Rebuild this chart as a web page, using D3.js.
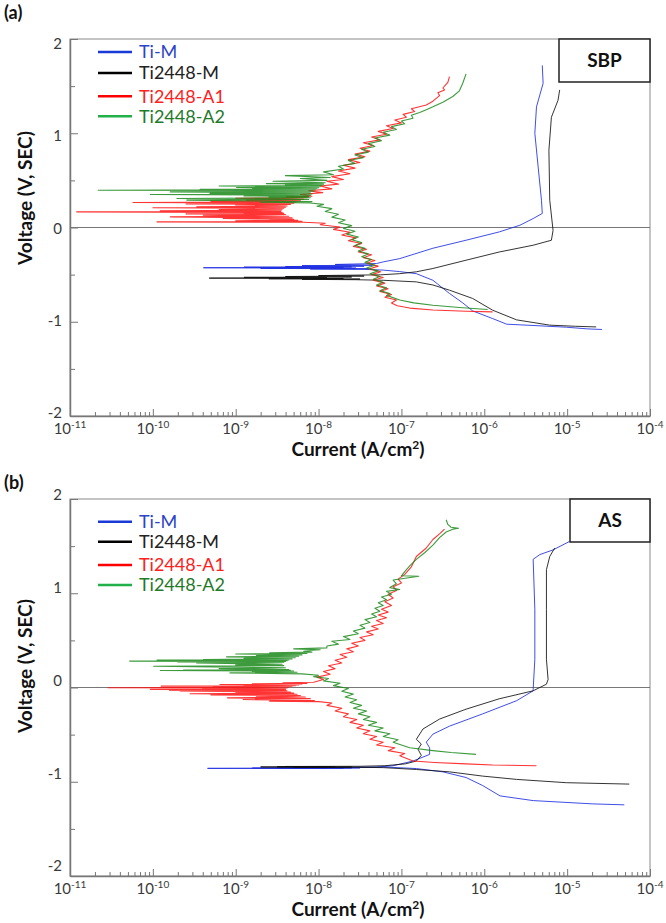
<!DOCTYPE html>
<html>
<head>
<meta charset="utf-8">
<script src="https://cdnjs.cloudflare.com/ajax/libs/d3/7.8.5/d3.min.js"></script>
<style>
  body { margin: 0; background: #fff; }
  text { font-family: Lato, "Open Sans", sans-serif; }
</style>
</head>
<body>
<script>
var width = 666,
  height = 923;

// series names, legend order
var names = ["Ti-M", "Ti2448-M", "Ti2448-A1", "Ti2448-A2"];
var decades = [1e-11, 1e-10, 1e-9, 1e-8, 1e-7, 1e-6, 1e-5, 1e-4];
var yTicks = [-2, -1, 0, 1, 2];
var yMinor = [-1.5, -0.5, 0.5, 1.5];

// each point: [log10 current (A/cm2), voltage (V)] in scan order

// ---- (a) SBP ----
var aTiM = [
  [-4.58,-1.082],[-4.75,-1.076],[-5.01,-1.058],[-5.40,-1.040],[-5.73,-1.026],[-5.90,-0.966],[-6.14,-0.885],
  [-6.26,-0.800],[-6.42,-0.700],[-6.62,-0.560],[-6.82,-0.490],[-7.02,-0.468],[-7.22,-0.452],[-7.45,-0.444],
  [-8.10,-0.440],[-7.40,-0.438],[-8.70,-0.434],[-7.55,-0.431],[-9.39,-0.427],[-7.70,-0.424],[-8.90,-0.421],
  [-7.60,-0.418],[-8.40,-0.414],[-7.45,-0.410],[-8.20,-0.405],[-7.35,-0.400],[-7.80,-0.392],[-7.30,-0.382],
  [-7.22,-0.365],[-7.02,-0.330],[-6.62,-0.220],[-6.22,-0.135],[-5.82,-0.047],[-5.57,0.024],[-5.41,0.095],
  [-5.30,0.149],[-5.31,0.290],[-5.35,0.643],[-5.39,1.000],[-5.37,1.280],[-5.29,1.530],[-5.30,1.720]
];
var aTi2448M = [
  [-4.65,-1.055],[-4.90,-1.048],[-5.21,-1.036],[-5.61,-0.980],[-5.90,-0.877],[-6.14,-0.753],[-6.42,-0.665],
  [-6.62,-0.610],[-6.82,-0.577],[-7.22,-0.560],[-7.55,-0.554],
  [-8.20,-0.550],[-7.50,-0.547],[-8.60,-0.544],[-7.70,-0.541],[-9.32,-0.537],[-7.90,-0.533],[-8.90,-0.529],
  [-7.60,-0.525],[-8.40,-0.520],[-7.45,-0.515],[-8.00,-0.510],[-7.25,-0.502],
  [-7.02,-0.490],[-6.82,-0.470],[-6.62,-0.435],[-6.22,-0.347],[-5.82,-0.260],[-5.41,-0.188],[-5.19,-0.135],
  [-5.17,-0.030],[-5.21,0.290],[-5.22,0.820],[-5.19,1.170],[-5.11,1.350],[-5.09,1.460]
];
var aA1 = [
  [-5.90,-0.895],[-6.22,-0.888],[-6.62,-0.875],[-6.90,-0.855],[-7.05,-0.830],[-7.12,-0.800],
  [-7.06,-0.770],[-7.20,-0.740],[-7.12,-0.710],[-7.26,-0.680],[-7.16,-0.650],[-7.30,-0.620],[-7.20,-0.590],
  [-7.34,-0.560],[-7.22,-0.530],[-7.36,-0.500],[-7.25,-0.470],[-7.39,-0.440],[-7.28,-0.410],[-7.42,-0.380],
  [-7.32,-0.350],[-7.46,-0.320],[-7.36,-0.290],[-7.52,-0.260],[-7.42,-0.230],[-7.58,-0.200],[-7.48,-0.170],
  [-7.64,-0.140],[-7.55,-0.110],[-7.72,-0.080],[-7.62,-0.050],[-7.82,-0.020],[-7.74,0.005],[-7.98,0.030],
  [-7.92,0.045],
  [-8.18,0.055],[-9.95,0.060],[-8.20,0.066],[-9.00,0.071],[-8.25,0.076],[-8.59,0.080],[-8.30,0.088],
  [-9.15,0.095],[-8.32,0.102],[-9.79,0.113],[-8.36,0.120],[-9.39,0.130],[-8.40,0.138],[-9.60,0.145],
  [-8.42,0.150],[-8.90,0.156],[-8.44,0.160],[-10.92,0.166],[-8.46,0.171],[-9.91,0.177],[-8.45,0.183],
  [-9.20,0.190],[-8.44,0.195],[-8.71,0.200],[-8.42,0.205],[-10.00,0.210],[-8.40,0.215],[-9.47,0.220],
  [-8.38,0.228],[-9.00,0.240],[-8.34,0.245],[-9.60,0.250],[-8.30,0.258],[-10.24,0.265],[-8.27,0.272],
  [-9.30,0.280],[-8.22,0.285],[-8.87,0.290],[-8.18,0.298],[-9.00,0.310],[-8.14,0.316],[-8.39,0.325],
  [-8.08,0.332],
  [-8.22,0.350],[-7.95,0.370],[-8.12,0.390],[-7.84,0.410],[-7.98,0.440],[-7.76,0.460],[-7.90,0.490],
  [-7.70,0.510],[-7.84,0.540],[-7.62,0.570],[-7.76,0.600],[-7.56,0.630],[-7.70,0.660],[-7.50,0.690],
  [-7.64,0.720],[-7.44,0.750],[-7.56,0.780],[-7.38,0.810],[-7.50,0.840],[-7.34,0.870],[-7.46,0.900],
  [-7.26,0.930],[-7.36,0.960],[-7.18,0.990],[-7.28,1.020],[-7.10,1.050],[-7.18,1.080],[-7.00,1.110],
  [-7.08,1.140],[-6.94,1.170],[-6.98,1.200],[-6.84,1.230],[-6.88,1.260],[-6.70,1.300],[-6.62,1.340],
  [-6.54,1.400],[-6.56,1.430],[-6.48,1.460],[-6.50,1.480],[-6.44,1.540],[-6.42,1.600]
];
var aA2 = [
  [-5.96,-0.870],[-6.30,-0.848],[-6.62,-0.825],[-6.85,-0.800],[-7.02,-0.770],[-7.18,-0.720],[-7.14,-0.700],
  [-7.26,-0.670],[-7.18,-0.640],[-7.30,-0.610],[-7.22,-0.580],[-7.34,-0.550],[-7.26,-0.520],[-7.38,-0.490],
  [-7.28,-0.460],[-7.42,-0.430],[-7.32,-0.400],[-7.44,-0.370],[-7.36,-0.340],[-7.48,-0.310],[-7.40,-0.280],
  [-7.52,-0.250],[-7.44,-0.220],[-7.56,-0.190],[-7.48,-0.160],[-7.60,-0.130],[-7.52,-0.100],[-7.66,-0.070],
  [-7.56,-0.040],[-7.70,-0.010],[-7.60,0.020],[-7.76,0.050],[-7.68,0.080],[-7.84,0.110],[-7.76,0.140],
  [-7.92,0.170],[-7.84,0.200],[-8.02,0.225],[-7.94,0.245],
  [-8.10,0.260],[-8.70,0.268],[-8.08,0.275],[-9.59,0.290],[-8.12,0.297],[-9.71,0.307],[-8.10,0.315],
  [-8.60,0.322],[-8.12,0.328],[-8.90,0.335],[-8.10,0.342],[-10.03,0.350],[-8.08,0.355],[-9.31,0.362],
  [-8.10,0.368],[-9.79,0.378],[-8.06,0.385],[-8.50,0.390],[-8.08,0.392],[-10.66,0.396],[-8.04,0.401],
  [-9.43,0.406],[-8.02,0.412],[-8.80,0.418],[-8.00,0.421],[-8.99,0.424],[-7.98,0.432],[-9.20,0.440],
  [-7.96,0.447],[-8.40,0.455],[-7.94,0.460],[-8.63,0.466],[-7.92,0.475],[-8.55,0.490],[-7.90,0.500],
  [-8.22,0.520],[-7.86,0.530],[-8.40,0.550],[-7.82,0.560],[-7.94,0.590],[-7.70,0.620],
  [-7.76,0.650],[-7.56,0.680],[-7.64,0.710],[-7.46,0.740],[-7.56,0.770],[-7.40,0.800],[-7.48,0.830],
  [-7.32,0.860],[-7.40,0.890],[-7.24,0.920],[-7.32,0.950],[-7.14,0.980],[-7.22,1.010],[-7.06,1.040],
  [-7.12,1.070],[-6.96,1.100],[-7.00,1.130],[-6.86,1.160],[-6.88,1.190],[-6.78,1.220],[-6.70,1.250],
  [-6.62,1.280],[-6.50,1.330],[-6.38,1.390],[-6.30,1.450],[-6.26,1.530],[-6.22,1.630]
];

// ---- (b) AS ----
var bTiM = [
  [-4.31,-1.245],[-4.69,-1.235],[-5.41,-1.200],[-5.81,-1.150],[-6.02,-1.040],[-6.22,-0.955],[-6.50,-0.895],
  [-6.82,-0.860],[-7.22,-0.843],[-7.55,-0.850],
  [-8.20,-0.852],[-7.60,-0.853],[-8.80,-0.855],[-7.70,-0.856],[-9.34,-0.858],[-7.90,-0.857],[-8.50,-0.855],
  [-7.50,-0.853],[-8.00,-0.850],[-7.30,-0.845],
  [-7.10,-0.830],[-6.86,-0.780],[-6.66,-0.710],[-6.66,-0.640],[-6.70,-0.580],[-6.62,-0.495],[-6.42,-0.410],
  [-6.02,-0.280],[-5.61,-0.140],[-5.41,-0.035],[-5.41,-0.020],[-5.39,0.300],[-5.39,0.830],[-5.41,1.360],
  [-5.33,1.410],[-5.17,1.460],[-4.97,1.550]
];
var bTi2448M = [
  [-4.25,-1.025],[-5.01,-1.010],[-5.61,-0.975],[-6.02,-0.940],[-6.42,-0.895],[-6.82,-0.870],[-7.22,-0.850],
  [-7.55,-0.846],
  [-8.30,-0.845],[-7.60,-0.844],[-8.70,-0.843],[-7.80,-0.842],[-8.50,-0.841],[-7.90,-0.840],[-8.40,-0.838],
  [-7.50,-0.836],
  [-7.20,-0.830],[-6.95,-0.810],[-6.82,-0.780],[-6.76,-0.720],[-6.80,-0.655],[-6.76,-0.600],[-6.82,-0.550],
  [-6.74,-0.440],[-6.54,-0.335],[-6.22,-0.230],[-5.82,-0.120],[-5.41,-0.035],[-5.25,0.035],[-5.23,0.085],
  [-5.25,0.300],[-5.25,0.830],[-5.25,1.250],[-5.21,1.390],[-5.15,1.480]
];
var bA1 = [
  [-5.37,-0.830],[-5.90,-0.822],[-6.22,-0.810],[-6.60,-0.795],[-6.86,-0.780],[-7.02,-0.725],[-6.96,-0.700],
  [-7.16,-0.670],[-7.08,-0.640],[-7.30,-0.610],[-7.22,-0.580],[-7.38,-0.550],[-7.30,-0.520],[-7.46,-0.490],
  [-7.38,-0.460],[-7.54,-0.430],[-7.46,-0.400],[-7.62,-0.370],[-7.54,-0.340],[-7.70,-0.310],[-7.64,-0.280],
  [-7.80,-0.250],[-7.72,-0.220],[-7.90,-0.190],[-7.84,-0.165],
  [-8.00,-0.150],[-8.59,-0.145],[-8.05,-0.138],[-8.91,-0.127],[-8.10,-0.118],[-9.10,-0.110],[-8.16,-0.100],
  [-8.75,-0.092],[-8.22,-0.085],[-9.30,-0.078],[-8.26,-0.072],[-9.55,-0.067],[-8.30,-0.060],[-9.00,-0.055],
  [-8.34,-0.048],[-9.67,-0.040],[-8.38,-0.035],[-9.80,-0.030],[-8.40,-0.025],[-10.03,-0.020],[-8.40,-0.015],
  [-9.40,-0.010],[-8.38,-0.006],[-10.54,-0.003],[-8.36,0.002],[-9.27,0.008],[-8.32,0.012],[-9.90,0.015],
  [-8.28,0.018],[-8.90,0.022],[-8.24,0.026],[-9.19,0.032],[-8.20,0.036],[-8.80,0.040],[-8.14,0.044],
  [-8.43,0.050],[-8.06,0.056],
  [-7.94,0.085],[-8.02,0.110],[-7.86,0.140],[-7.94,0.170],[-7.80,0.200],[-7.88,0.230],[-7.72,0.260],
  [-7.80,0.290],[-7.66,0.320],[-7.74,0.350],[-7.58,0.380],[-7.66,0.410],[-7.52,0.440],[-7.60,0.470],
  [-7.44,0.500],[-7.50,0.530],[-7.34,0.560],[-7.42,0.590],[-7.28,0.620],[-7.36,0.650],[-7.22,0.680],
  [-7.30,0.710],[-7.18,0.740],[-7.28,0.770],[-7.16,0.800],[-7.24,0.830],[-7.12,0.870],[-7.20,0.910],
  [-7.10,0.950],[-7.16,0.990],[-7.06,1.030],[-7.10,1.070],[-7.00,1.110],[-7.04,1.150],[-6.96,1.200],
  [-6.88,1.280],[-6.82,1.390],[-6.70,1.480],[-6.62,1.570],[-6.54,1.630],[-6.48,1.680]
];
var bA2 = [
  [-6.10,-0.710],[-6.40,-0.690],[-6.62,-0.670],[-6.90,-0.640],[-7.10,-0.580],[-7.04,-0.555],[-7.22,-0.520],
  [-7.14,-0.490],[-7.32,-0.460],[-7.22,-0.430],[-7.40,-0.400],[-7.30,-0.370],[-7.46,-0.340],[-7.38,-0.310],
  [-7.52,-0.280],[-7.42,-0.250],[-7.58,-0.220],[-7.48,-0.190],[-7.62,-0.160],[-7.54,-0.130],[-7.68,-0.100],
  [-7.58,-0.070],[-7.72,-0.040],[-7.64,-0.010],[-7.82,0.020],[-7.74,0.045],[-7.94,0.070],[-7.88,0.095],
  [-8.06,0.115],[-8.00,0.130],
  [-8.20,0.145],[-9.07,0.155],[-8.26,0.162],[-8.80,0.170],[-8.30,0.175],[-9.91,0.180],[-8.34,0.182],
  [-9.63,0.184],[-8.36,0.190],[-9.20,0.200],[-8.40,0.210],[-9.99,0.226],[-8.42,0.232],[-9.00,0.240],
  [-8.44,0.246],[-9.47,0.260],[-8.42,0.266],[-9.70,0.272],[-8.40,0.276],[-10.28,0.280],[-8.38,0.284],
  [-9.95,0.290],[-8.36,0.293],[-9.39,0.297],[-8.32,0.303],[-8.90,0.310],[-8.28,0.316],[-9.11,0.325],
  [-8.24,0.331],[-8.75,0.340],[-8.20,0.346],[-9.00,0.355],[-8.14,0.360],[-8.59,0.368],[-8.08,0.375],
  [-8.18,0.385],[-7.98,0.400],[-8.30,0.410],[-7.90,0.420],[-7.90,0.440],
  [-7.76,0.460],[-7.84,0.490],[-7.62,0.510],[-7.70,0.540],[-7.52,0.570],[-7.58,0.600],[-7.44,0.630],
  [-7.50,0.660],[-7.38,0.690],[-7.44,0.720],[-7.30,0.750],[-7.36,0.780],[-7.26,0.810],[-7.32,0.840],
  [-7.22,0.870],[-7.28,0.900],[-7.18,0.930],[-7.24,0.960],[-7.12,0.990],[-7.18,1.020],[-7.02,1.040],
  [-7.14,1.060],[-7.06,1.100],[-7.10,1.140],[-6.79,1.180],[-7.00,1.185],[-6.96,1.230],[-6.90,1.290],
  [-6.82,1.360],[-6.72,1.430],[-6.62,1.510],[-6.54,1.590],[-6.46,1.650],[-6.38,1.680],[-6.31,1.690],
  [-6.40,1.700],[-6.44,1.730],[-6.46,1.780]
];

var lineColors = ["#1f2fe0", "#111111", "#ff1010", "#1b8a1b"];
var legendLine = ["#1a3ad8", "#000000", "#ff0000", "#22b04a"];
var legendText = ["#2b44c8", "#222222", "#ff2020", "#1f7a2a"];

var panels = [
  {letter: "(a)", letterY: 19, top: 39, bottom: 416, tag: "SBP", tagX: 559, tagH: 43,
   legendDy: [13, 34, 57.3, 77.3], labTop: 4.5, labBot: -3, yTitle: 198,
   series: [aTiM, aTi2448M, aA1, aA2]},
  {letter: "(b)", letterY: 489, top: 499, bottom: 876, tag: "AS", tagX: 570, tagH: 43,
   legendDy: [22.7, 42.7, 66, 86], labTop: -4, labBot: -10, yTitle: 666,
   series: [bTiM, bTi2448M, bA1, bA2]}
];

var left = 70, right = 650;

var svg = d3.select("body").append("svg")
  .attr("width", width)
  .attr("height", height);

var x = d3.scaleLog().domain([1e-11, 1e-4]).range([left, right]);

var minor = [];
decades.slice(0, -1).forEach(function(d) {
  for (var k = 2; k < 10; k++) minor.push(d * k);
});

panels.forEach(function(p, pi) {
  var y = d3.scaleLinear().domain([-2, 2]).range([p.bottom, p.top]);
  // tick labels sit slightly off the tick marks in the original
  var yLab = d3.scaleLinear().domain([-2, 2]).range([p.bottom + p.labBot, p.top + p.labTop]);
  var g = svg.append("g");

  g.append("text").attr("x", 4).attr("y", p.letterY)
    .attr("font-size", 18).attr("font-weight", "bold").attr("fill", "#111")
    .text(p.letter);

  // frame
  g.append("rect").attr("x", left).attr("y", p.top)
    .attr("width", right - left).attr("height", p.bottom - p.top)
    .attr("fill", "none").attr("stroke", "#8a8a8a").attr("stroke-width", 1);

  // zero line
  g.append("line").attr("x1", left).attr("x2", right)
    .attr("y1", y(0)).attr("y2", y(0))
    .attr("stroke", "#777").attr("stroke-width", 1.2);

  // x axis: ticks inward
  var xAxis = g.append("g").attr("transform", "translate(0," + p.bottom + ")")
    .call(d3.axisBottom(x).tickValues(decades).tickSizeInner(-7).tickSizeOuter(0).tickFormat(""));
  g.append("g").attr("transform", "translate(0," + p.bottom + ")")
    .call(d3.axisBottom(x).tickValues(minor).tickSizeInner(-4).tickSizeOuter(0).tickFormat(""))
    .select(".domain").remove();
  xAxis.select(".domain").attr("stroke", "#777").attr("stroke-width", 1.5);
  g.selectAll(".tick line").attr("stroke", "#777");

  g.selectAll(".xlab").data(decades).enter().append("text")
    .attr("class", "xlab")
    .attr("x", function(d) { return x(d); })
    .attr("y", p.bottom + 18)
    .attr("text-anchor", "middle")
    .attr("font-size", 15).attr("fill", "#3a3a3a")
    .each(function(d) {
      var t = d3.select(this);
      t.append("tspan").text("10");
      t.append("tspan").attr("dy", -6).attr("font-size", 10)
        .text(Math.round(Math.log10(d)));
    });

  // y axis: ticks inward
  var yAxis = g.append("g").attr("transform", "translate(" + left + ",0)")
    .call(d3.axisLeft(y).tickValues(yTicks).tickSizeInner(-8).tickSizeOuter(0).tickFormat(""));
  g.append("g").attr("transform", "translate(" + left + ",0)")
    .call(d3.axisLeft(y).tickValues(yMinor).tickSizeInner(-5).tickSizeOuter(0).tickFormat(""))
    .select(".domain").remove();
  yAxis.select(".domain").attr("stroke", "#777").attr("stroke-width", 1.5);
  g.selectAll(".tick line").attr("stroke", "#777");

  g.selectAll(".ylab").data(yTicks).enter().append("text")
    .attr("class", "ylab")
    .attr("x", 62).attr("y", function(d) { return yLab(d); })
    .attr("dy", "0.35em").attr("text-anchor", "end")
    .attr("font-size", 15).attr("fill", "#3a3a3a")
    .text(function(d) { return d; });

  // axis titles
  var xt = g.append("text").attr("x", 358).attr("y", p.bottom + 40)
    .attr("text-anchor", "middle").attr("font-size", 19).attr("font-weight", "bold")
    .attr("fill", "#111");
  xt.append("tspan").text("Current (A/cm");
  xt.append("tspan").attr("dy", -7).attr("font-size", 12).text("2");
  xt.append("tspan").attr("dy", 7).text(")");

  g.append("text")
    .attr("transform", "translate(32," + p.yTitle + ") rotate(-90)")
    .attr("text-anchor", "middle").attr("font-size", 19).attr("font-weight", "bold")
    .attr("fill", "#111")
    .text("Voltage (V, SEC)");

  // curves
  var clipId = "clip" + pi;
  g.append("clipPath").attr("id", clipId).append("rect")
    .attr("x", left).attr("y", p.top).attr("width", right - left).attr("height", p.bottom - p.top);

  var line = d3.line()
    .x(function(d) { return x(Math.pow(10, d[0])); })
    .y(function(d) { return y(d[1]); });

  g.append("g").attr("clip-path", "url(#" + clipId + ")")
    .selectAll("path").data(p.series).enter().append("path")
    .attr("d", line)
    .attr("fill", "none")
    .attr("stroke", function(d, i) { return lineColors[i]; })
    .attr("stroke-width", function(d, i) { return i < 2 ? 1 : 1.1; })
    .attr("stroke-opacity", 0.85)
    .attr("stroke-linejoin", "round");

  // tag box
  g.append("rect").attr("x", p.tagX).attr("y", p.top)
    .attr("width", right - p.tagX).attr("height", p.tagH)
    .attr("fill", "#fff").attr("stroke", "#222").attr("stroke-width", 1.5);
  g.append("text").attr("x", (p.tagX + right) / 2).attr("y", p.top + p.tagH / 2)
    .attr("dy", "0.36em").attr("text-anchor", "middle")
    .attr("font-size", 19).attr("font-weight", "bold").attr("fill", "#111")
    .text(p.tag);

  // legend
  var lg = g.selectAll(".leg").data(names).enter().append("g")
    .attr("transform", function(d, i) { return "translate(0," + (p.top + p.legendDy[i]) + ")"; });
  lg.append("line").attr("x1", 98).attr("x2", 132)
    .attr("stroke", function(d, i) { return legendLine[i]; })
    .attr("stroke-width", 2.6);
  lg.append("text").attr("x", 139).attr("dy", "0.36em")
    .attr("font-size", 18)
    .attr("fill", function(d, i) { return legendText[i]; })
    .text(function(d) { return d; });
});
</script>
</body>
</html>
